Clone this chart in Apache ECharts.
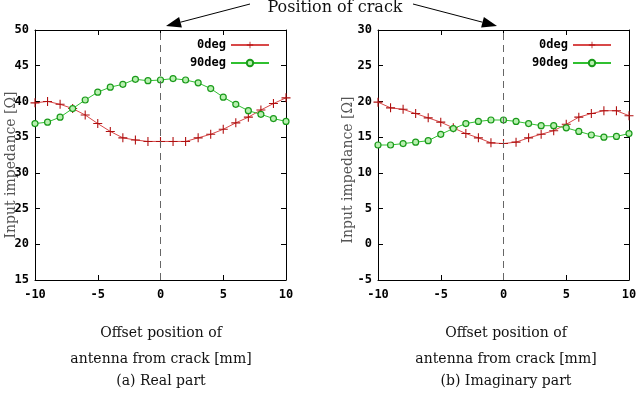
<!DOCTYPE html>
<html>
<head>
<meta charset="utf-8">
<script src="https://cdn.jsdelivr.net/npm/echarts@6/dist/echarts.min.js"></script>
<style>
  html, body { margin: 0; padding: 0; background: #fff; }
  #chart { width: 644px; height: 394px; }
</style>
</head>
<body>
<div id="chart"></div>
<script>
// offsets of the antenna from the crack [mm]
const offsets = [-10, -9, -8, -7, -6, -5, -4, -3, -2, -1, 0, 1, 2, 3, 4, 5, 6, 7, 8, 9, 10]

// (a) real part
const real0 = [39.8, 40.0, 39.6, 39.0, 38.1, 36.9, 35.8, 34.9, 34.6, 34.4, 34.4, 34.4, 34.4, 34.9, 35.4, 36.1, 37.0, 37.8, 38.8, 39.7, 40.5]
const real90 = [36.9, 37.1, 37.8, 39.0, 40.2, 41.3, 42.0, 42.4, 43.1, 42.9, 43.0, 43.2, 43.0, 42.6, 41.8, 40.6, 39.6, 38.7, 38.2, 37.6, 37.2]

// (b) imaginary part
const imag0 = [19.9, 19.1, 18.9, 18.3, 17.7, 17.1, 16.3, 15.5, 14.9, 14.2, 14.1, 14.3, 14.9, 15.4, 15.9, 16.8, 17.8, 18.3, 18.7, 18.7, 18.0]
const imag90 = [13.9, 13.9, 14.1, 14.3, 14.5, 15.4, 16.2, 16.9, 17.2, 17.4, 17.4, 17.2, 16.9, 16.6, 16.6, 16.3, 15.8, 15.3, 15.0, 15.1, 15.5]

const seriesNames = ['0deg', '90deg']
const yRanges = [[15, 50], [-5, 30]]
const crackAt = 0

const pair = (ys) => offsets.map((x, i) => [x, ys[i]])

const monoBold = {
  fontFamily: 'DejaVu Sans Mono',
  fontWeight: 'bold',
  fontSize: 12,
  color: '#000'
}
const plus = 'path://M-0.12,-1H0.12V-0.12H1V0.12H0.12V1H-0.12V0.12H-1V-0.12H-0.12Z'

const grids = [
  { left: 35, top: 30, width: 251, height: 250 },
  { left: 378, top: 30, width: 251, height: 250 }
]

const boxLine = { show: true, onZero: false, lineStyle: { color: '#000', width: 1 } }
const inTick = { show: true, inside: true, length: 5, lineStyle: { color: '#000' } }

const xAxis = []
const yAxis = []
grids.forEach((g, i) => {
  xAxis.push({
    type: 'value', gridIndex: i, position: 'bottom', min: -10, max: 10, interval: 5,
    axisLine: boxLine, axisTick: inTick, splitLine: { show: false },
    axisLabel: Object.assign({ margin: 9 }, monoBold)
  })
  yAxis.push({
    type: 'value', gridIndex: i, position: 'left', min: yRanges[i][0], max: yRanges[i][1], interval: 5,
    axisLine: boxLine, axisTick: inTick, splitLine: { show: false },
    axisLabel: Object.assign({ margin: 6 }, monoBold)
  })
})
// mirror axes (top and right) for the closed box
grids.forEach((g, i) => {
  xAxis.push({
    type: 'value', gridIndex: i, position: 'top', min: -10, max: 10, interval: 5,
    axisLine: boxLine, axisTick: inTick, axisLabel: { show: false }, splitLine: { show: false }
  })
  yAxis.push({
    type: 'value', gridIndex: i, position: 'right', min: yRanges[i][0], max: yRanges[i][1], interval: 5,
    axisLine: boxLine, axisTick: inTick, axisLabel: { show: false }, splitLine: { show: false }
  })
})

const crackLine = {
  silent: true,
  symbol: 'none',
  label: { show: false },
  lineStyle: { color: '#666', type: [7, 5], width: 1 },
  data: [{ xAxis: crackAt }]
}

function redSeries (data, idx) {
  return {
    name: seriesNames[0], type: 'line', xAxisIndex: idx, yAxisIndex: idx,
    data: pair(data), symbol: plus, symbolSize: 9,
    lineStyle: { color: '#d84848', width: 1 },
    itemStyle: { color: '#b01010' },
    markLine: crackLine,
    animation: false
  }
}
function greenSeries (data, idx) {
  return {
    name: seriesNames[1], type: 'line', xAxisIndex: idx, yAxisIndex: idx,
    data: pair(data), symbol: 'circle', symbolSize: 6,
    lineStyle: { color: '#30c030', width: 1 },
    itemStyle: { color: '#b8f0b0', borderColor: '#1a9a1a', borderWidth: 1.2 },
    animation: false
  }
}

const legendBase = {
  orient: 'vertical', align: 'right', itemWidth: 38, itemHeight: 8, itemGap: 6,
  textStyle: monoBold, selectedMode: false, data: seriesNames
}

const serif = 'DejaVu Serif'
const labelTexts = [
  { x: 161, lines: ['Offset position of', 'antenna from crack [mm]', '(a) Real part'] },
  { x: 506, lines: ['Offset position of', 'antenna from crack [mm]', '(b) Imaginary part'] }
]
const graphics = []
labelTexts.forEach((t) => {
  t.lines.forEach((s, k) => {
    graphics.push({
      type: 'text', x: t.x, y: [333, 359, 381][k],
      style: { text: s, font: '14px "' + serif + '"', fill: '#111', align: 'center', verticalAlign: 'middle' }
    })
  })
})
// y axis titles
;[[11, 165], [348, 170]].forEach((p) => {
  graphics.push({
    type: 'text', x: p[0], y: p[1], rotation: Math.PI / 2,
    style: { text: 'Input impedance [Ω]', font: '14px "' + serif + '"', fill: '#555', align: 'center', verticalAlign: 'middle' }
  })
})
// "Position of crack" with arrows
graphics.push({
  type: 'text', x: 335, y: 8,
  style: { text: 'Position of crack', font: '16px "' + serif + '"', fill: '#111', align: 'center', verticalAlign: 'middle' }
})
function arrow (x1, y1, x2, y2) {
  const a = Math.atan2(y2 - y1, x2 - x1)
  const L = 15, W = 5.5
  const bx = x2 - L * Math.cos(a), by = y2 - L * Math.sin(a)
  graphics.push({ type: 'line', shape: { x1: x1, y1: y1, x2: bx, y2: by }, style: { stroke: '#000', lineWidth: 1 } })
  graphics.push({
    type: 'polygon',
    shape: { points: [[x2, y2], [bx + W * Math.sin(a), by - W * Math.cos(a)], [bx - W * Math.sin(a), by + W * Math.cos(a)]] },
    style: { fill: '#000' }
  })
}
arrow(250, 4, 166, 26)
arrow(413, 4, 497, 26)

const chart = echarts.init(document.getElementById('chart'))
chart.setOption({
  backgroundColor: '#fff',
  animation: false,
  grid: grids,
  xAxis: xAxis,
  yAxis: yAxis,
  legend: [
    Object.assign({ right: 369, top: 34 }, legendBase),
    Object.assign({ right: 27, top: 34 }, legendBase)
  ],
  series: [
    redSeries(real0, 0),
    greenSeries(real90, 0),
    redSeries(imag0, 1),
    greenSeries(imag90, 1)
  ],
  graphic: graphics
})
</script>
</body>
</html>
